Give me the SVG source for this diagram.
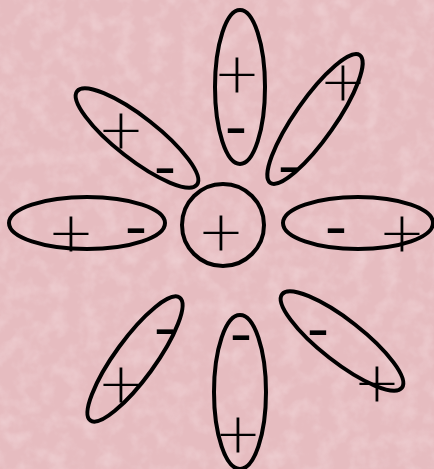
<svg xmlns="http://www.w3.org/2000/svg" width="434" height="469" viewBox="0 0 434 469">
<defs>
<filter id="tex" x="0" y="0" width="100%" height="100%">
<feTurbulence type="fractalNoise" baseFrequency="0.06" numOctaves="3" seed="4" result="n"/>
<feColorMatrix in="n" type="matrix" values="0 0 0 0 0.98  0 0 0 0 0.86  0 0 0 0 0.87  0 0 0 1.1 -0.45"/>
</filter>
</defs>
<style>
.p{fill:none;stroke:#000;stroke-width:4}
.plus{font-family:"DejaVu Sans",sans-serif;font-weight:200;font-size:56px;text-anchor:middle;fill:#000}
.minus{font-family:"Liberation Sans",sans-serif;font-weight:bold;font-size:38px;text-anchor:middle;fill:#000}
</style>
<rect width="434" height="469" fill="#e6bcc0"/>
<rect width="434" height="469" filter="url(#tex)" opacity="0.6"/>
<g id="center"><circle class="p" cx="223" cy="225" r="41"/><text class="plus" x="221" y="250">+</text></g>
<g id="top"><ellipse class="p" cx="240" cy="87" rx="25" ry="77"/><text class="plus" x="237" y="92">+</text><text class="minus" transform="translate(236 141) scale(1.7 1)">-</text></g>
<g id="top-right"><ellipse class="p" cx="315" cy="119" rx="20" ry="78" transform="rotate(35 315 119)"/><text class="plus" x="343" y="100">+</text><text class="minus" transform="translate(289 180) scale(1.7 1)">-</text></g>
<g id="right"><ellipse class="p" cx="358" cy="223" rx="75" ry="26"/><text class="minus" transform="translate(336 241) scale(1.7 1)">-</text><text class="plus" x="402" y="251">+</text></g>
<g id="bottom-right"><ellipse class="p" cx="342" cy="341" rx="76" ry="21" transform="rotate(38 342 341)"/><text class="minus" transform="translate(318 343) scale(1.7 1)">-</text><text class="plus" x="377" y="401">+</text></g>
<g id="bottom"><ellipse class="p" cx="240" cy="392" rx="26" ry="77"/><text class="minus" transform="translate(241 348) scale(1.7 1)">-</text><text class="plus" x="238" y="452">+</text></g>
<g id="bottom-left"><ellipse class="p" cx="135" cy="359" rx="20" ry="76" transform="rotate(36 135 359)"/><text class="minus" transform="translate(165 342) scale(1.7 1)">-</text><text class="plus" x="121" y="402">+</text></g>
<g id="left"><ellipse class="p" cx="87" cy="223" rx="78" ry="26"/><text class="plus" x="71" y="251">+</text><text class="minus" transform="translate(136 241) scale(1.7 1)">-</text></g>
<g id="top-left"><ellipse class="p" cx="137" cy="138" rx="76" ry="21" transform="rotate(38 137 138)"/><text class="plus" x="121" y="148">+</text><text class="minus" transform="translate(165 181) scale(1.7 1)">-</text></g>
</svg>
